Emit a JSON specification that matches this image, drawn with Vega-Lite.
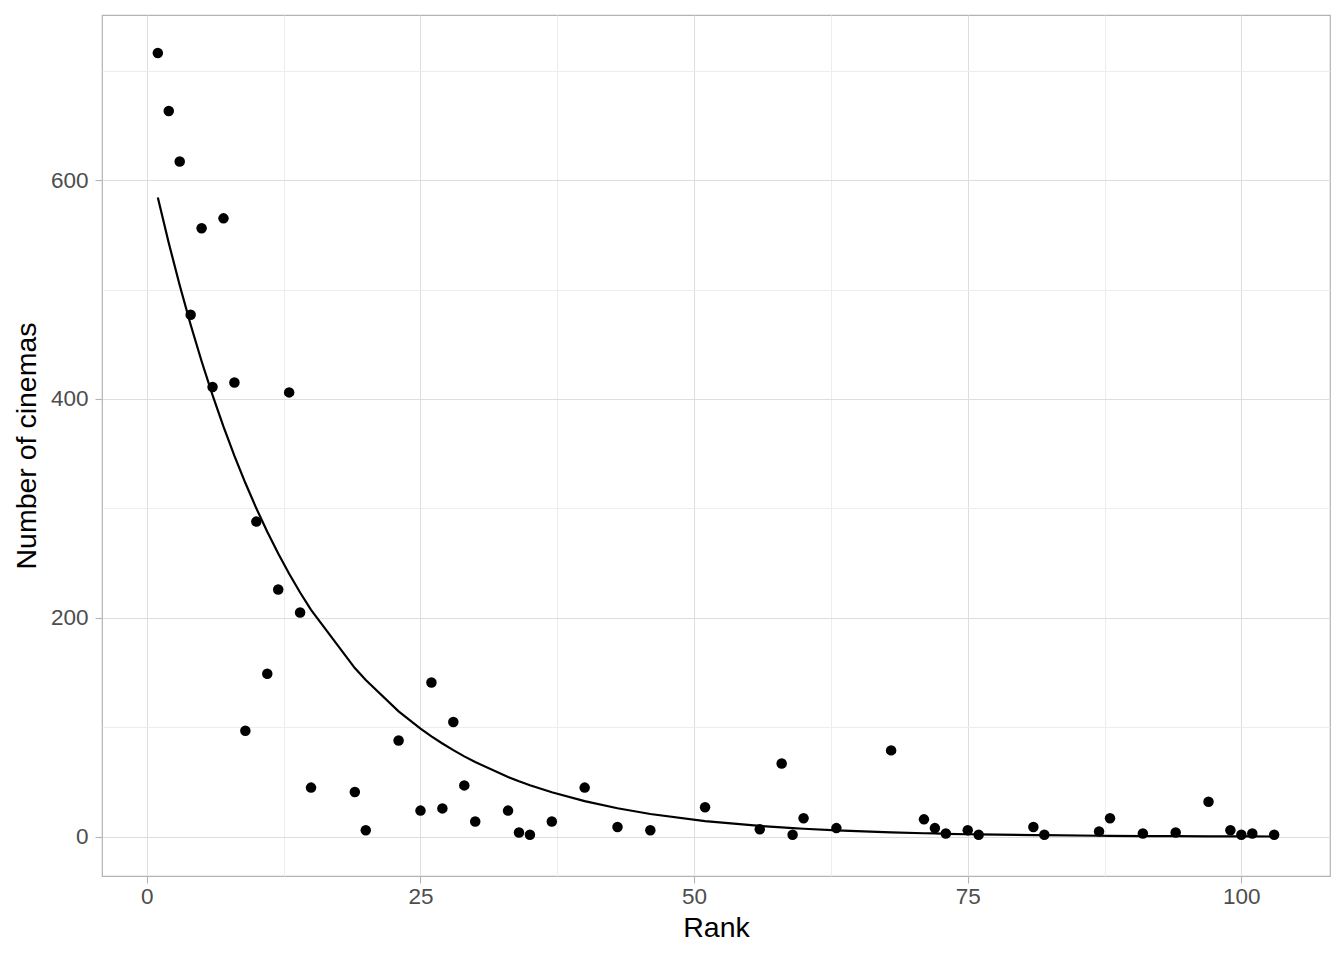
{
  "$schema": "https://vega.github.io/schema/vega-lite/v6.json",
  "autosize": {"type": "none"},
  "width": 1228,
  "height": 861,
  "padding": {"left": 102, "top": 15, "right": 14, "bottom": 84},
  "background": "white",
  "config": {
    "font": "Liberation Sans",
    "view": {"stroke": "#B3B3B3", "strokeWidth": 1.2},
    "axis": {
      "domain": false,
      "labelFont": "Liberation Sans",
      "labelFontSize": 22.5,
      "labelColor": "#4D4D4D",
      "titleFont": "Liberation Sans",
      "titleFontSize": 28.5,
      "titleFontWeight": "normal",
      "titleColor": "black",
      "tickSize": 7,
      "tickWidth": 1.1,
      "gridWidth": 1
    }
  },
  "data": {
    "values": [
      {"rank": 1, "cinemas": 716, "fit": 584.1},
      {"rank": 2, "cinemas": 663, "fit": 542.5},
      {"rank": 3, "cinemas": 617, "fit": 503.8},
      {"rank": 4, "cinemas": 477, "fit": 467.8},
      {"rank": 5, "cinemas": 556, "fit": 434.5},
      {"rank": 6, "cinemas": 411, "fit": 403.5},
      {"rank": 7, "cinemas": 565, "fit": 374.7},
      {"rank": 8, "cinemas": 415, "fit": 348.0},
      {"rank": 9, "cinemas": 97, "fit": 323.2},
      {"rank": 10, "cinemas": 288, "fit": 300.1},
      {"rank": 11, "cinemas": 149, "fit": 278.7},
      {"rank": 12, "cinemas": 226, "fit": 258.8},
      {"rank": 13, "cinemas": 406, "fit": 240.4},
      {"rank": 14, "cinemas": 205, "fit": 223.2},
      {"rank": 15, "cinemas": 45, "fit": 207.3},
      {"rank": 19, "cinemas": 41, "fit": 154.2},
      {"rank": 20, "cinemas": 6, "fit": 143.2},
      {"rank": 23, "cinemas": 88, "fit": 114.7},
      {"rank": 25, "cinemas": 24, "fit": 98.9},
      {"rank": 26, "cinemas": 141, "fit": 91.8},
      {"rank": 27, "cinemas": 26, "fit": 85.3},
      {"rank": 28, "cinemas": 105, "fit": 79.2},
      {"rank": 29, "cinemas": 47, "fit": 73.5},
      {"rank": 30, "cinemas": 14, "fit": 68.3},
      {"rank": 33, "cinemas": 24, "fit": 54.7},
      {"rank": 34, "cinemas": 4, "fit": 50.8},
      {"rank": 35, "cinemas": 2, "fit": 47.2},
      {"rank": 37, "cinemas": 14, "fit": 40.7},
      {"rank": 40, "cinemas": 45, "fit": 32.6},
      {"rank": 43, "cinemas": 9, "fit": 26.1},
      {"rank": 46, "cinemas": 6, "fit": 20.9},
      {"rank": 51, "cinemas": 27, "fit": 14.4},
      {"rank": 56, "cinemas": 7, "fit": 10.0},
      {"rank": 58, "cinemas": 67, "fit": 8.6},
      {"rank": 59, "cinemas": 2, "fit": 8.0},
      {"rank": 60, "cinemas": 17, "fit": 7.4},
      {"rank": 63, "cinemas": 8, "fit": 5.9},
      {"rank": 68, "cinemas": 79, "fit": 4.1},
      {"rank": 71, "cinemas": 16, "fit": 3.3},
      {"rank": 72, "cinemas": 8, "fit": 3.1},
      {"rank": 73, "cinemas": 3, "fit": 2.8},
      {"rank": 75, "cinemas": 6, "fit": 2.4},
      {"rank": 76, "cinemas": 2, "fit": 2.3},
      {"rank": 81, "cinemas": 9, "fit": 1.6},
      {"rank": 82, "cinemas": 2, "fit": 1.5},
      {"rank": 87, "cinemas": 5, "fit": 1.0},
      {"rank": 88, "cinemas": 17, "fit": 0.93},
      {"rank": 91, "cinemas": 3, "fit": 0.75},
      {"rank": 94, "cinemas": 4, "fit": 0.6},
      {"rank": 97, "cinemas": 32, "fit": 0.48},
      {"rank": 99, "cinemas": 6, "fit": 0.41},
      {"rank": 100, "cinemas": 2, "fit": 0.38},
      {"rank": 101, "cinemas": 3, "fit": 0.36},
      {"rank": 103, "cinemas": 2, "fit": 0.31}
    ]
  },
  "encoding": {
    "x": {
      "field": "rank",
      "type": "quantitative",
      "title": "Rank",
      "scale": {"domain": [-4.1, 108.1], "nice": false, "zero": false},
      "axis": {
        "values": [0, 12.5, 25, 37.5, 50, 62.5, 75, 87.5, 100],
        "labelExpr": "datum.value % 25 === 0 ? datum.label : ''",
        "labelPadding": 2,
        "titlePadding": 6,
        "tickColor": {"condition": {"test": "datum.value % 25 === 0", "value": "#B3B3B3"}, "value": "transparent"},
        "gridColor": {"condition": {"test": "datum.value % 25 === 0", "value": "#DEDEDE"}, "value": "#EDEDED"},
        "grid": true
      }
    },
    "y": {
      "field": "cinemas",
      "type": "quantitative",
      "title": "Number of cinemas",
      "scale": {"domain": [-35.75, 750.75], "nice": false, "zero": false},
      "axis": {
        "values": [0, 100, 200, 300, 400, 500, 600, 700],
        "labelExpr": "datum.value % 200 === 0 ? datum.label : ''",
        "labelPadding": 7,
        "titlePadding": 9,
        "tickColor": {"condition": {"test": "datum.value % 200 === 0", "value": "#B3B3B3"}, "value": "transparent"},
        "gridColor": {"condition": {"test": "datum.value % 200 === 0", "value": "#DEDEDE"}, "value": "#EDEDED"},
        "grid": true
      }
    }
  },
  "layer": [
    {
      "mark": {"type": "point", "filled": true, "color": "black", "opacity": 1, "size": 110}
    },
    {
      "mark": {"type": "line", "color": "black", "strokeWidth": 2.2},
      "encoding": {"y": {"field": "fit", "type": "quantitative"}}
    }
  ]
}
